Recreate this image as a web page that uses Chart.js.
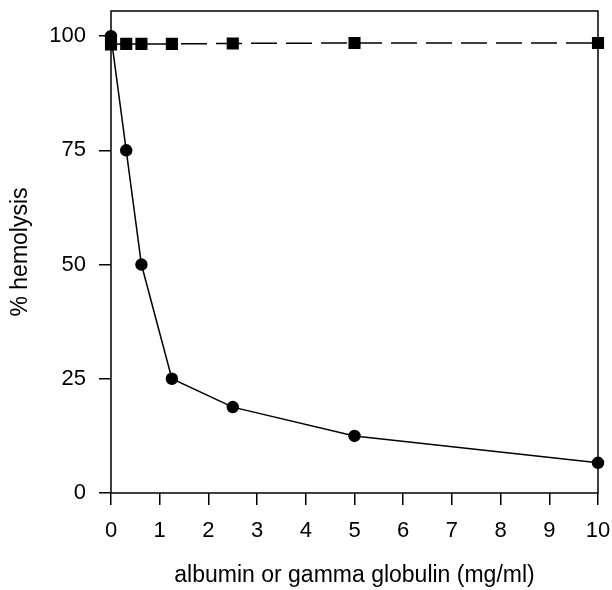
<!DOCTYPE html>
<html>
<head>
<meta charset="utf-8">
<script src="https://cdn.jsdelivr.net/npm/chart.js@4/dist/chart.umd.min.js"></script>
<style>
  html, body { margin: 0; padding: 0; background: #fff; }
  #wrap { width: 612px; height: 590px; position: relative; }
</style>
</head>
<body>
<div id="wrap"><canvas id="c" width="612" height="590"></canvas></div>
<script>
const concentrations = [0, 0.3125, 0.625, 1.25, 2.5, 5, 10];
const circleSeries = [100, 75, 50, 25, 18.8, 12.5, 6.6];
const squareSeries = [98.2, 98.3, 98.3, 98.3, 98.4, 98.5, 98.5];
const xTicks = [0, 1, 2, 3, 4, 5, 6, 7, 8, 9, 10];
const yTicks = [0, 25, 50, 75, 100];
const xTitle = 'albumin or gamma globulin (mg/ml)';
const yTitle = '% hemolysis';

const toPoints = (xs, ys) => xs.map((x, i) => ({ x: x, y: ys[i] }));

const boxPlugin = {
  id: 'box',
  afterDatasetsDraw(chart) {
    const { ctx, chartArea: a } = chart;
    ctx.save();
    ctx.strokeStyle = '#000';
    ctx.lineWidth = 1.5;
    ctx.strokeRect(a.left, a.top, a.right - a.left, a.bottom - a.top);
    ctx.restore();
  }
};

const FONT = "'Liberation Sans', Arial, Helvetica, sans-serif";

new Chart(document.getElementById('c'), {
  type: 'scatter',
  data: {
    datasets: [
      {
        data: toPoints(concentrations, circleSeries),
        showLine: true,
        borderColor: '#000',
        backgroundColor: '#000',
        borderWidth: 1.5,
        pointStyle: 'circle',
        pointRadius: 5.5,
        pointHoverRadius: 5.5,
        clip: false
      },
      {
        data: toPoints(concentrations, squareSeries),
        showLine: true,
        borderColor: '#000',
        backgroundColor: '#000',
        borderWidth: 1.5,
        borderDash: [26, 9],
        pointStyle: 'rect',
        pointRadius: 7.5,
        pointHoverRadius: 7.5,
        clip: false
      }
    ]
  },
  options: {
    responsive: false,
    animation: false,
    devicePixelRatio: 1,
    layout: { padding: { top: 11, right: 14, left: 0, bottom: 0 } },
    plugins: { legend: { display: false }, tooltip: { enabled: false } },
    scales: {
      x: {
        type: 'linear',
        min: 0,
        max: 10,
        afterBuildTicks(scale) { scale.ticks = xTicks.map(v => ({ value: v })); },
        afterFit(scale) { scale.height = 97; scale.paddingLeft = 0; scale.paddingRight = 0; },
        border: { display: false },
        grid: { drawOnChartArea: false, drawTicks: true, tickLength: 12, color: '#000', lineWidth: 1.5 },
        ticks: { color: '#000', font: { family: FONT, size: 22 }, padding: 13, maxRotation: 0 },
        title: { display: true, text: xTitle, color: '#000', font: { family: FONT, size: 23 }, padding: { top: 0, bottom: 1 } }
      },
      y: {
        type: 'linear',
        min: 0,
        max: 105.5,
        afterBuildTicks(scale) { scale.ticks = yTicks.map(v => ({ value: v })); },
        afterFit(scale) { scale.width = 111; scale.paddingTop = 0; scale.paddingBottom = 0; },
        border: { display: false },
        grid: { drawOnChartArea: false, drawTicks: true, tickLength: 12, color: '#000', lineWidth: 1.5 },
        ticks: { color: '#000', font: { family: FONT, size: 22 }, padding: 13 },
        title: { display: true, text: yTitle, color: '#000', font: { family: FONT, size: 23 }, padding: { top: 7, bottom: 0 } }
      }
    }
  },
  plugins: [boxPlugin]
});
</script>
</body>
</html>
